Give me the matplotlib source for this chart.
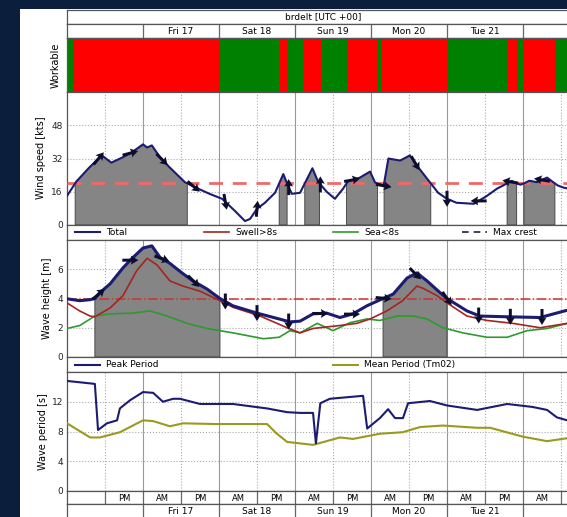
import numpy as np
import matplotlib
matplotlib.use("Agg")
import matplotlib.pyplot as plt
from matplotlib.patches import Rectangle

# time axis in hours from Thu 16 00:00 UTC
t_end = 162
day_edges = [24, 48, 72, 96, 120, 144]
day_labels = ['Fri 17', 'Sat 18', 'Sun 19', 'Mon 20', 'Tue 21']
day_label_pos = [36, 60, 84, 108, 132]
half_edges = [12, 24, 36, 48, 60, 72, 84, 96, 108, 120, 132, 144, 156]
ampm_labels = ['PM', 'AM', 'PM', 'AM', 'PM', 'AM', 'PM', 'AM', 'PM', 'AM', 'PM', 'AM']
ampm_pos = [18, 30, 42, 54, 66, 78, 90, 102, 114, 126, 138, 150]

# workable windows
work_edges = [0, 2.2, 48, 67, 69.5, 74.5, 80.5, 88.4, 98.2, 99.5, 120.3, 139.3, 142.1, 144.3, 154.4, 162]
work_ok = [1, 0, 1, 0, 1, 0, 1, 0, 1, 0, 1, 0, 1, 0, 1]

# wind speed [kts]
wind_t = [0, 3, 7, 11, 14, 17.5, 20.5, 24, 25.3, 26.8, 29.4, 32.5, 37.3, 41.4, 45, 49, 53, 56.2,
          57.8, 60, 62.5, 65.7, 68.3, 69.8, 71, 73.6, 77.5, 79.3, 82, 84.6, 87.2, 88.7, 92.5,
          95.7, 97.3, 100, 101.5, 105.2, 108.3, 110.5, 113.7, 117.2, 120, 123, 128.5, 132.6,
          135.8, 140.5, 142, 143.2, 144.3, 146, 148.4, 151.6, 153.8, 155, 157, 162]
wind_v = [14, 21, 27.6, 33.5, 30, 32.5, 35, 38.8, 37.3, 38.3, 32.5, 27.6, 20.5, 17.5, 15, 12.6,
          6.8, 1.9, 2.9, 7.8, 10.7, 15.5, 24.5, 18.9, 15, 15.5, 27.3, 20.8, 16, 12.6, 17.5, 21,
          22.8, 25.7, 20.4, 18.9, 32, 31, 33.5, 28.6, 22.3, 15.5, 12.6, 10.7, 10.2, 14, 17.5,
          21.2, 20.0, 19.4, 20.0, 21.3, 20.6, 22.8, 20.3, 19.0, 17.9, 16.5]
wind_lim = 20

# wave heights [m]
hs_t = [0, 4, 7.3, 8.8, 10.4, 13.6, 17.7, 20.8, 24, 26.8, 29.4, 32.5, 36.3, 39.8, 44.2, 48.3,
        52.4, 60, 67, 70.4, 73.6, 77.7, 82, 86.2, 90.3, 94.7, 99.8, 103, 107.4, 110.5, 113.7,
        117.8, 120, 126.3, 130.4, 139, 149.4, 158, 162]
hs_total = [3.98, 3.85, 3.92, 4.0, 4.4, 5.0, 6.1, 6.8, 7.45, 7.6, 6.8, 6.4, 5.75, 5.2, 4.65,
            4.0, 3.5, 3.0, 2.6, 2.4, 2.45, 2.95, 3.0, 2.7, 2.95, 3.5, 4.0, 4.3, 5.4, 5.75, 5.2,
            4.4, 4.0, 3.15, 2.8, 2.75, 2.7, 3.2, 3.4]
sw_t = [0, 4, 7.3, 8.8, 13.6, 17.7, 22, 25.3, 28.4, 32.5, 36.6, 42, 48.3, 52.4, 61, 69.5, 73.6,
        77.7, 86, 91.5, 95.7, 101, 106, 110.5, 112.4, 116.8, 120, 126.3, 132.6, 140.8, 149.4,
        158, 162]
hs_swell = [3.7, 3.15, 2.8, 2.75, 3.35, 4.2, 5.9, 6.75, 6.3, 5.2, 4.85, 4.5, 3.85, 3.4, 2.8,
            2.0, 1.65, 1.95, 2.15, 2.3, 2.6, 3.15, 3.85, 4.85, 4.7, 4.2, 3.7, 2.8, 2.5, 2.3,
            2.0, 2.3, 2.4]
sea_t = [0, 4, 8.8, 13.6, 20.8, 26.2, 31.6, 37.9, 44.2, 52.4, 62, 67, 70.4, 73.6, 79, 84, 89.4,
         94.7, 98.8, 104.2, 109.3, 113.7, 118.7, 125, 132.6, 139, 145.3, 151.6, 158, 162]
hs_sea = [1.95, 2.15, 2.8, 2.95, 3.0, 3.15, 2.8, 2.3, 1.95, 1.65, 1.25, 1.35, 1.8, 1.65, 2.3,
          1.8, 2.35, 2.6, 2.5, 2.8, 2.8, 2.6, 2.0, 1.65, 1.35, 1.35, 1.8, 1.95, 2.3, 2.4]
hs_lim = 4

# wave periods [s]
tp_t = [0, 8.8, 9.8, 12.6, 15.8, 16.7, 19.9, 24, 27.2, 30.3, 33.5, 35.7, 42, 52.4, 63.2, 69.5,
        73.6, 77.7, 78.6, 80, 83, 93.5, 94.8, 98.8, 101.4, 103.6, 106.1, 107.7, 114.6, 120,
        129.5, 139, 147, 151.6, 154.7, 158, 162]
tp = [14.8, 14.4, 8.2, 9.1, 9.5, 11.1, 12.2, 13.3, 13.2, 12.0, 12.4, 12.4, 11.7, 11.7, 11.1,
      10.6, 10.5, 10.5, 6.4, 11.8, 12.4, 12.8, 8.4, 9.8, 11.0, 9.8, 9.8, 11.8, 12.1, 11.5,
      10.9, 11.7, 11.3, 10.9, 9.9, 9.5, 9.3]
tm_t = [0, 7.3, 10.4, 16.7, 24, 27.2, 32.5, 36.6, 47.4, 63.2, 66, 69.5, 73.6, 77.7, 86.2, 90.3,
        98.8, 106, 111.5, 118.7, 129.5, 133.6, 144, 151.6, 158, 162]
tm = [9.1, 7.2, 7.2, 7.9, 9.5, 9.4, 8.7, 9.1, 9.0, 9.0, 7.8, 6.6, 6.4, 6.2, 7.2, 7.0, 7.7, 7.9,
      8.6, 8.8, 8.5, 8.5, 7.3, 6.7, 7.1, 7.2]

# direction arrows (screen angle in degrees)
arrow_t = [10, 20, 30, 40, 50, 60, 70, 80, 90, 100, 110, 120, 130, 140, 150]
wind_dir = [50, 15, -45, -40, -80, 85, 90, 90, 10, -10, -60, -90, 180, 170, 170]
wave_dir = [40, 0, -20, -45, -90, -90, -90, 0, 0, -5, -45, -55, -90, -90, -90]

navy = '#1c1c72'
red = '#a52420'
green = '#2e9a2e'
olive = '#9a9a20'
W, H = 567, 517
fig = plt.figure(figsize=(W / 100, H / 100), dpi=100, facecolor='#0b1e3b')
fig.patches.append(Rectangle((20 / W, 0), 1, 1 - 9 / H, transform=fig.transFigure,
                             facecolor='white', edgecolor='none', zorder=-10))

X0, X1 = 67, 580
HPP = t_end / (X1 - X0)  # hours per pixel


def pax(y0, y1):
    ax = fig.add_axes([X0 / W, 1 - y1 / H, (X1 - X0) / W, (y1 - y0) / H])
    ax.set_xlim(0, t_end)
    for s in ax.spines.values():
        s.set_color('#555555')
        s.set_linewidth(0.9)
    ax.tick_params(axis='x', which='both', length=0, labelbottom=False)
    ax.tick_params(axis='y', labelsize=6.5, length=0, pad=3, colors='#222222')
    return ax


def plain(ax):
    ax.set_xticks([])
    ax.set_yticks([])
    ax.set_ylim(0, 1)


def data_grid(ax):
    ax.set_xticks(day_edges)
    ax.set_xticks(half_edges, minor=True)
    ax.grid(axis='x', which='major', color='#999999', lw=0.8, ls='-')
    ax.grid(axis='x', which='minor', color='#aaaaaa', lw=0.8, ls=':')
    ax.grid(axis='y', color='#aaaaaa', lw=0.8, ls=':')
    ax.set_axisbelow(True)


def with_crossings(t, v, lim):
    # add the points where the series crosses the limit so the shading has vertical edges
    tt, vv = [t[0]], [v[0]]
    for i in range(1, len(t)):
        a, b = v[i - 1] - lim, v[i] - lim
        if a * b < 0:
            tt.append(t[i - 1] + (t[i] - t[i - 1]) * a / (a - b))
            vv.append(lim)
        tt.append(t[i])
        vv.append(v[i])
    return np.array(tt), np.array(vv)


def shade(ax, t, v, lim):
    tt, vv = with_crossings(t, v, lim)
    ax.fill_between(tt, 0, vv, where=vv >= lim - 1e-9, facecolor='#858585',
                    edgecolor='#3a3a3a', lw=0.6, zorder=2)


def quiv(ax, x, y, deg):
    a = np.radians(deg)
    ax.quiver(x, y, np.cos(a), np.sin(a), angles='uv', units='dots', width=3,
              headwidth=3, headlength=2.5, headaxislength=2.2, scale_units='dots',
              scale=1 / 16, pivot='middle', color='#0d0d2e', zorder=6)


def legend_row(ax, items):
    # items: (left pixel of handle, label, line kwargs)
    for px, label, kw in items:
        h0 = (px - X0) * HPP
        ax.plot([h0, h0 + 25 * HPP], [0.5, 0.5], **kw)
        ax.text(h0 + 31 * HPP, 0.5, label, ha='left', va='center', fontsize=6.5)


# header
title_ax = pax(10, 24)
plain(title_ax)
title_ax.text(t_end / 2, 0.5, 'brdelt [UTC +00]', ha='center', va='center', fontsize=6.5)

top_days = pax(24, 38)
plain(top_days)
for d in day_edges:
    top_days.axvline(d, color='#666666', lw=0.9)
for p, lab in zip(day_label_pos, day_labels):
    top_days.text(p, 0.45, lab, ha='center', va='center', fontsize=6.5)

# workable
work_ax = pax(38, 92)
plain(work_ax)
for i, ok in enumerate(work_ok):
    work_ax.axvspan(work_edges[i], work_edges[i + 1], color='#008000' if ok else '#ff0000', lw=0)

# wind
wind_ax = pax(92, 225)
data_grid(wind_ax)
shade(wind_ax, wind_t, wind_v, wind_lim)
wind_ax.plot(wind_t, wind_v, color=navy, lw=1.5, zorder=4)
wind_ax.axhline(wind_lim, color='#ee6a6a', ls='--', lw=2, dashes=(5, 3.5), zorder=3)
quiv(wind_ax, arrow_t, np.interp(arrow_t, wind_t, wind_v), wind_dir)
wind_ax.set_ylim(0, 64)
wind_ax.set_yticks([0, 16, 32, 48])

leg1 = pax(225, 240)
plain(leg1)
legend_row(leg1, [(75, 'Total', dict(color=navy, lw=1.5)),
                  (204, 'Swell>8s', dict(color=red, lw=1.2)),
                  (333, 'Sea<8s', dict(color=green, lw=1.2)),
                  (462, 'Max crest', dict(color='#222233', lw=1.2, ls=(0, (4, 3, 4, 3, 1, 3))))])

# wave height
wave_ax = pax(240, 357)
data_grid(wave_ax)
shade(wave_ax, hs_t, hs_total, hs_lim)
wave_ax.axhline(hs_lim, color='#d03030', ls='-.', lw=1.1, zorder=3)
wave_ax.plot(sea_t, hs_sea, color=green, lw=1.2, zorder=4)
wave_ax.plot(sw_t, hs_swell, color=red, lw=1.2, zorder=4)
wave_ax.plot(hs_t, hs_total, color=navy, lw=2.2, zorder=5)
quiv(wave_ax, arrow_t, np.interp(arrow_t, hs_t, hs_total), wave_dir)
wave_ax.set_ylim(0, 8)
wave_ax.set_yticks([0, 2, 4, 6])

leg2 = pax(357, 372)
plain(leg2)
legend_row(leg2, [(75, 'Peak Period', dict(color=navy, lw=1.5)),
                  (333, 'Mean Period (Tm02)', dict(color=olive, lw=1.5))])

# wave period
per_ax = pax(372, 491)
data_grid(per_ax)
per_ax.plot(tm_t, tm, color=olive, lw=1.5, zorder=4)
per_ax.plot(tp_t, tp, color=navy, lw=1.5, zorder=5)
per_ax.set_ylim(0, 16)
per_ax.set_yticks([0, 4, 8, 12])

# bottom time rows
ampm_ax = pax(491, 504)
plain(ampm_ax)
for d in half_edges:
    ampm_ax.axvline(d, color='#666666', lw=0.9)
for p, lab in zip(ampm_pos, ampm_labels):
    ampm_ax.text(p, 0.45, lab, ha='center', va='center', fontsize=6)

bot_days = pax(504, 520)
plain(bot_days)
for d in day_edges:
    bot_days.axvline(d, color='#666666', lw=0.9)
for p, lab in zip(day_label_pos, day_labels):
    bot_days.text(p, 0.55, lab, ha='center', va='center', fontsize=6.5)

# y labels
fig.text(56 / W, 1 - 65 / H, 'Workable', rotation=90, ha='center', va='center', fontsize=7)
fig.text(41 / W, 1 - 158 / H, 'Wind speed [kts]', rotation=90, ha='center', va='center', fontsize=7)
fig.text(47 / W, 1 - 298 / H, 'Wave height [m]', rotation=90, ha='center', va='center', fontsize=7)
fig.text(43 / W, 1 - 432 / H, 'Wave period [s]', rotation=90, ha='center', va='center', fontsize=7)

fig.savefig('out.png', dpi=100, facecolor=fig.get_facecolor())
